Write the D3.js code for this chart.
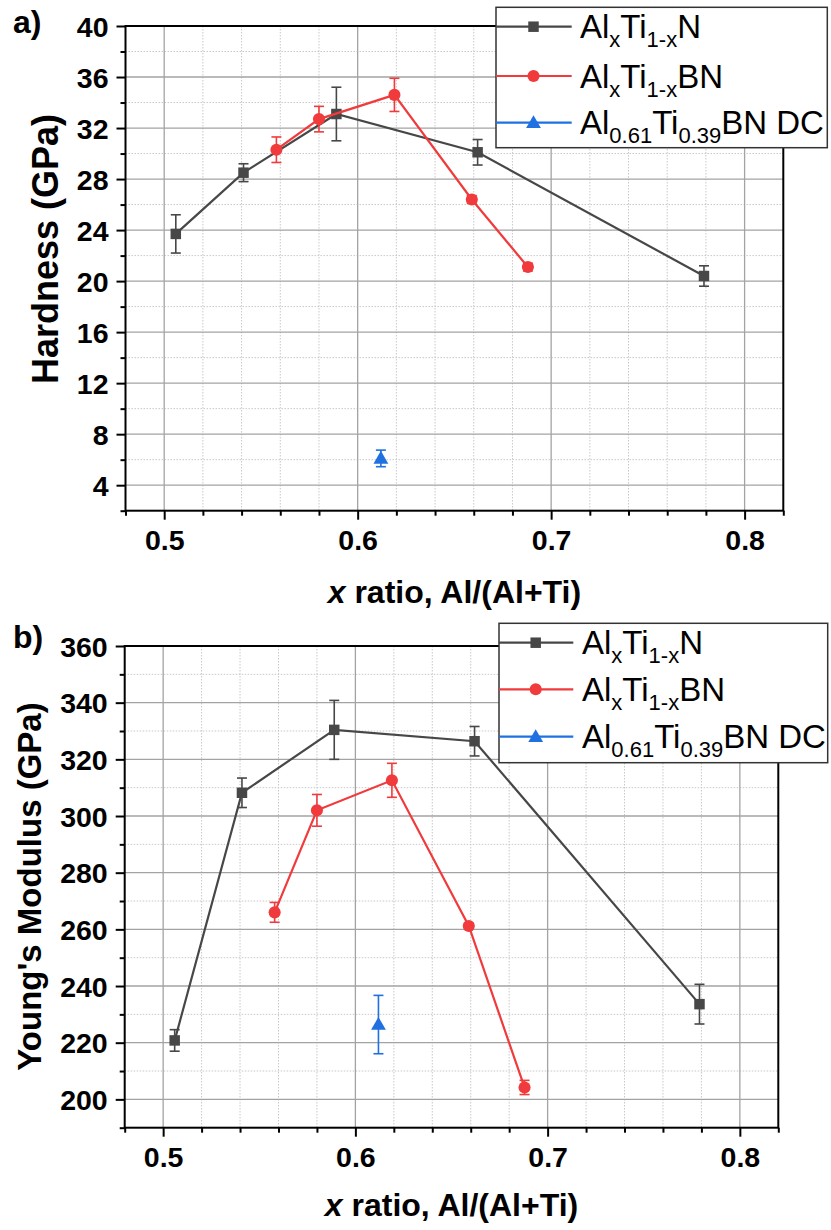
<!DOCTYPE html>
<html><head><meta charset="utf-8">
<script src="https://cdn.jsdelivr.net/npm/d3@7/dist/d3.min.js"></script>
<style>body{margin:0;background:#fff}svg{display:block}text{font-family:"Liberation Sans",Arial,sans-serif}</style>
</head><body>
<script>
// ---- data ----
const xN = [0.506, 0.541, 0.589, 0.662, 0.779];
const xBN = [0.558, 0.580, 0.619, 0.659, 0.688];
const xDC = [0.612];
const hardN = [23.7, 28.5, 33.1, 30.1, 20.4];
const hardNErr = [1.5, 0.7, 2.1, 1.0, 0.8];
const hardBN = [30.3, 32.7, 34.6, 26.4, 21.1];
const hardBNErr = [1.0, 1.0, 1.3, 0.3, 0.3];
const hardDC = [6.1];
const hardDCErr = [0.65];
const modN = [220.8, 308.2, 330.4, 326.4, 233.6];
const modNErr = [3.8, 5.2, 10.4, 5.2, 7.0];
const modBN = [266.0, 302.0, 312.6, 261.2, 204.2];
const modBNErr = [3.5, 5.6, 6.0, 1.0, 2.5];
const modDC = [226.4];
const modDCErr = [10.3];
const xMajor = [0.5, 0.6, 0.7, 0.8];
const xMinor = [0.48, 0.52, 0.54, 0.56, 0.58, 0.62, 0.64, 0.66, 0.68, 0.72, 0.74, 0.76, 0.78, 0.82];
const hardMajor = [4, 8, 12, 16, 20, 24, 28, 32, 36, 40];
const hardMinor = [2, 6, 10, 14, 18, 22, 26, 30, 34, 38];
const modMajor = [200, 220, 240, 260, 280, 300, 320, 340, 360];
const modMinor = [190, 210, 230, 250, 270, 290, 310, 330, 350];
const legendNames = [
  [["Al",0],["x",1],["Ti",0],["1-x",1],["N",0]],
  [["Al",0],["x",1],["Ti",0],["1-x",1],["BN",0]],
  [["Al",0],["0.61",1],["Ti",0],["0.39",1],["BN DC",0]]
];
const colors = ["#474747", "#f03a3c", "#1f70e0"];

const svg = d3.select("body").append("svg").attr("width", 831).attr("height", 1230);

function panel(c) {
  const g = svg.append("g");
  const x = d3.scaleLinear().domain([0.48, 0.82]).range([c.left, c.right]);
  const y = d3.scaleLinear().domain(c.yDomain).range([c.bottom, c.top]);
  // minor grid
  g.selectAll(".vmin").data(xMinor).join("line")
    .attr("x1", d => x(d)).attr("x2", d => x(d)).attr("y1", c.top).attr("y2", c.bottom)
    .attr("stroke", "#c8c8c8").attr("stroke-width", 1).attr("stroke-dasharray", "1.5,1.5");
  g.selectAll(".hmin").data(c.yMinor).join("line")
    .attr("y1", d => y(d)).attr("y2", d => y(d)).attr("x1", c.left).attr("x2", c.right)
    .attr("stroke", "#c8c8c8").attr("stroke-width", 1).attr("stroke-dasharray", "1.5,1.5");
  // major grid
  g.selectAll(".vmaj").data(xMajor).join("line")
    .attr("x1", d => x(d)).attr("x2", d => x(d)).attr("y1", c.top).attr("y2", c.bottom)
    .attr("stroke", "#a3a3a3").attr("stroke-width", 1.3);
  g.selectAll(".hmaj").data(c.yMajor).join("line")
    .attr("y1", d => y(d)).attr("y2", d => y(d)).attr("x1", c.left).attr("x2", c.right)
    .attr("stroke", "#a3a3a3").attr("stroke-width", 1.3);

  // axes ticks
  const axB = g.append("g").attr("transform", `translate(0,${c.bottom})`)
    .call(d3.axisBottom(x).tickValues(xMajor).tickSize(9).tickPadding(6).tickFormat(d3.format(".1f")));
  const axBm = g.append("g").attr("transform", `translate(0,${c.bottom})`)
    .call(d3.axisBottom(x).tickValues(xMinor).tickSize(5).tickFormat(""));
  const axL = g.append("g").attr("transform", `translate(${c.left},0)`)
    .call(d3.axisLeft(y).tickValues(c.yMajor).tickSize(9).tickPadding(8).tickFormat(d3.format("d")));
  const axLm = g.append("g").attr("transform", `translate(${c.left},0)`)
    .call(d3.axisLeft(y).tickValues(c.yMinor).tickSize(5).tickFormat(""));
  [axB, axBm, axL, axLm].forEach(a => {
    a.select(".domain").remove();
    a.selectAll(".tick line").attr("stroke", "#000").attr("stroke-width", 2);
    a.selectAll("text").attr("fill", "#000").style("font-size", "28.5px").style("font-weight", "bold")
      .style("font-family", '"Liberation Sans", Arial, sans-serif');
  });
  axB.selectAll("text").attr("dy", null).attr("y", 39.5).attr("dominant-baseline", "auto");
  axL.selectAll("text").attr("dy", "0.36em");

  // frame
  g.append("rect").attr("x", c.left).attr("y", c.top).attr("width", c.right - c.left)
    .attr("height", c.bottom - c.top).attr("fill", "none").attr("stroke", "#000").attr("stroke-width", 2);

  // series
  const series = [
    {xs: xN, ys: c.yN, es: c.eN, col: colors[0], sym: d3.symbolSquare, size: 110},
    {xs: xBN, ys: c.yBN, es: c.eBN, col: colors[1], sym: d3.symbolCircle, size: 115},
    {xs: xDC, ys: c.yDC, es: c.eDC, col: colors[2], sym: d3.symbolTriangle, size: 95}
  ];
  series.forEach(s => {
    const pts = s.xs.map((v, i) => ({x: v, y: s.ys[i], e: s.es[i]}));
    if (pts.length > 1) {
      g.append("path").datum(pts)
        .attr("d", d3.line().x(d => x(d.x)).y(d => y(d.y)))
        .attr("fill", "none").attr("stroke", s.col).attr("stroke-width", 2.2);
    }
    const eb = g.append("g").attr("stroke", s.col).attr("stroke-width", 1.6);
    eb.selectAll(".ev").data(pts).join("line")
      .attr("x1", d => x(d.x)).attr("x2", d => x(d.x))
      .attr("y1", d => y(d.y - d.e)).attr("y2", d => y(d.y + d.e));
    eb.selectAll(".et").data(pts).join("line")
      .attr("x1", d => x(d.x) - 5).attr("x2", d => x(d.x) + 5)
      .attr("y1", d => y(d.y + d.e)).attr("y2", d => y(d.y + d.e));
    eb.selectAll(".ebt").data(pts).join("line")
      .attr("x1", d => x(d.x) - 5).attr("x2", d => x(d.x) + 5)
      .attr("y1", d => y(d.y - d.e)).attr("y2", d => y(d.y - d.e));
    g.selectAll(null).data(pts).join("path")
      .attr("transform", d => `translate(${x(d.x)},${y(d.y) + (s.sym === d3.symbolTriangle ? 1 : 0)})`)
      .attr("d", d3.symbol().type(s.sym).size(s.size)).attr("fill", s.col);
  });

  // axis titles
  const xt = g.append("text").attr("x", (c.left + c.right) / 2).attr("y", c.xTitleY)
    .attr("text-anchor", "middle").style("font-size", "32px").style("font-weight", "bold");
  xt.append("tspan").style("font-style", "italic").text("x");
  xt.append("tspan").text(" ratio, Al/(Al+Ti)");
  g.append("text").attr("transform", `translate(${c.yTitleX},${c.yTitleY}) rotate(-90)`)
    .attr("text-anchor", "middle").style("font-size", c.yTitleSize + "px").style("font-weight", "bold")
    .text(c.yTitle);
  g.append("text").attr("x", 13).attr("y", c.labelY).style("font-size", "32px").style("font-weight", "bold").text(c.label);

  // legend
  const L = c.legend;
  g.append("rect").attr("x", L.x0).attr("y", L.y0).attr("width", L.x1 - L.x0).attr("height", L.y1 - L.y0)
    .attr("fill", "#fff").attr("stroke", "#333").attr("stroke-width", 1.5);
  L.rows.forEach((ry, i) => {
    const s = series[i];
    g.append("line").attr("x1", L.x0).attr("x2", L.lineEnd).attr("y1", ry).attr("y2", ry)
      .attr("stroke", s.col).attr("stroke-width", 2.2);
    g.append("path").attr("transform", `translate(${L.mark},${ry + (i === 2 ? 1 : 0)})`)
      .attr("d", d3.symbol().type(s.sym).size(s.size)).attr("fill", s.col);
    const t = g.append("text").attr("x", L.textX).attr("y", ry + 11.5).style("font-size", "33px");
    let shifted = false;
    legendNames[i].forEach(([str, sub]) => {
      const ts = t.append("tspan").text(str);
      if (sub && !shifted) { ts.attr("dy", 9).style("font-size", "22px"); shifted = true; }
      else if (!sub && shifted) { ts.attr("dy", -9); shifted = false; }
    });
  });
}

panel({
  left: 125.5, right: 783.3, top: 26, bottom: 510.7,
  yDomain: [2, 40], yMajor: hardMajor, yMinor: hardMinor,
  yN: hardN, eN: hardNErr, yBN: hardBN, eBN: hardBNErr, yDC: hardDC, eDC: hardDCErr,
  xTitleY: 603, yTitle: "Hardness (GPa)", yTitleX: 58, yTitleY: 249, yTitleSize: 36,
  label: "a)", labelY: 33,
  legend: {x0: 496, x1: 827.3, y0: 7.3, y1: 147.7, rows: [26.7, 76, 122.7], lineEnd: 571.7, mark: 533.5, textX: 580}
});
panel({
  left: 124.7, right: 778.3, top: 646, bottom: 1127.7,
  yDomain: [190, 360], yMajor: modMajor, yMinor: modMinor,
  yN: modN, eN: modNErr, yBN: modBN, eBN: modBNErr, yDC: modDC, eDC: modDCErr,
  xTitleY: 1216, yTitle: "Young's Modulus (GPa)", yTitleX: 41, yTitleY: 886.5, yTitleSize: 33,
  label: "b)", labelY: 648,
  legend: {x0: 499, x1: 827.7, y0: 623.3, y1: 762.7, rows: [642.7, 689.3, 736.7], lineEnd: 573.3, mark: 535.7, textX: 582}
});
</script>
</body></html>
